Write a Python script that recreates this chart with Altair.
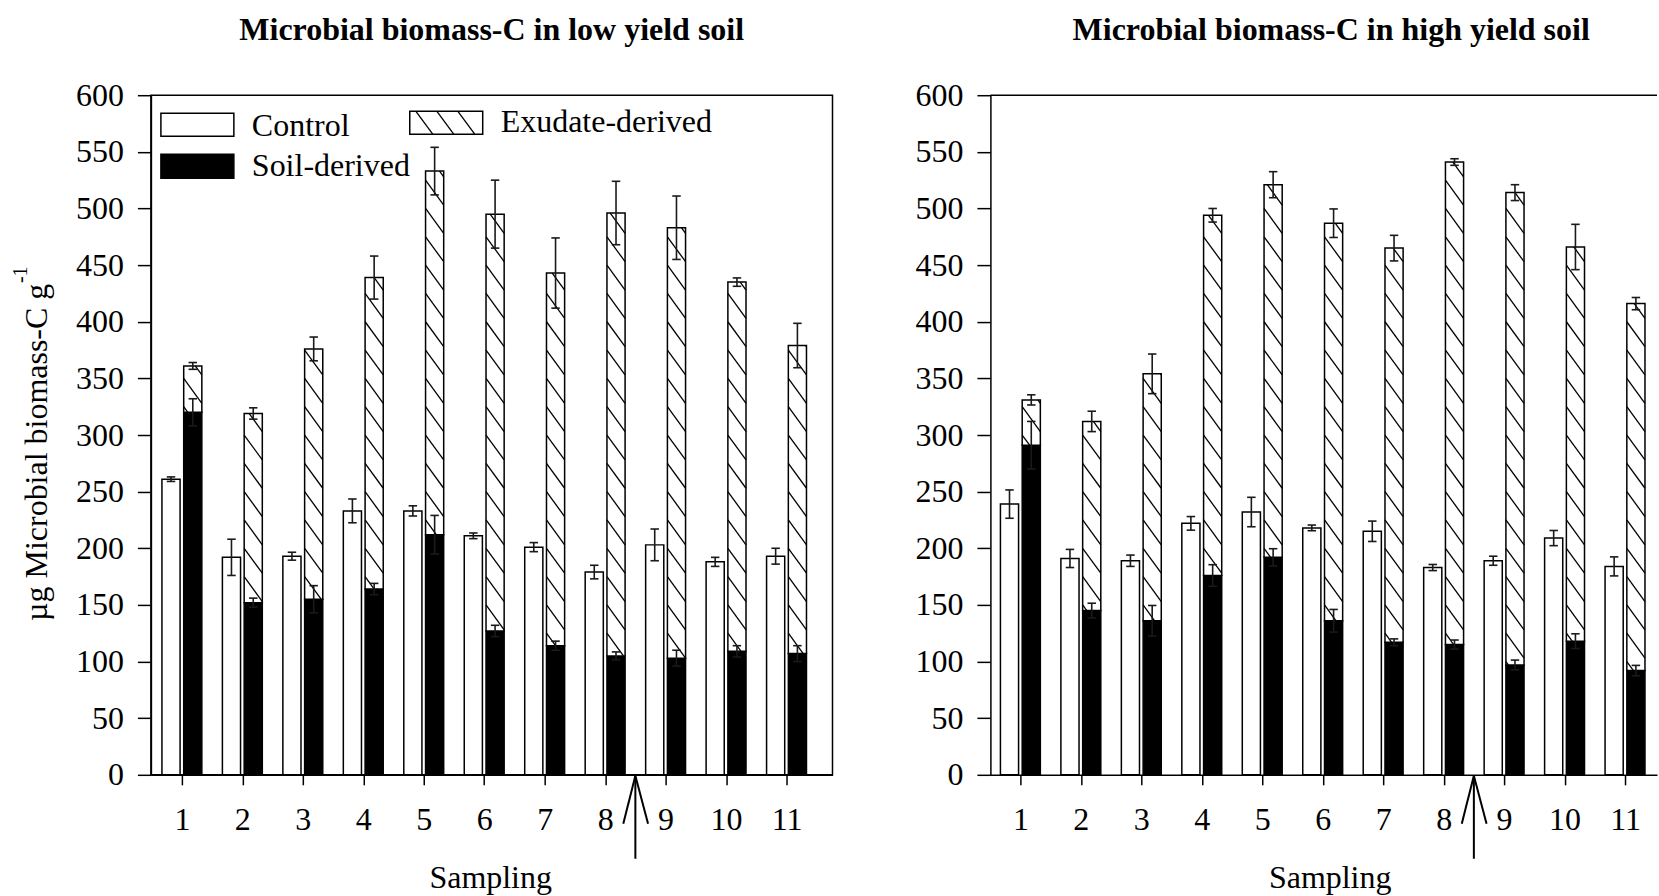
import altair as alt
import numpy as np
import pandas as pd

# ---------------- data ----------------
sampling = list(range(1, 12))

low_control = [261, 192, 193, 233, 233, 211, 201, 179, 203, 188, 193]
low_control_err = [2, 16, 3.5, 10.5, 4.5, 2.5, 4, 6, 14, 4, 7]
low_soil = [320, 152, 155, 164, 212, 127, 114, 105, 103, 109, 107]
low_soil_err = [12, 4, 12, 5, 17, 5, 4, 3.5, 7, 5, 7]
low_total = [361, 319, 376, 439, 533, 495, 443, 496, 483, 435, 379]
low_total_err = [3, 5, 10.5, 19, 21, 30, 31, 28, 28, 3.7, 19.6]

high_control = [239, 191, 189, 222, 232, 218, 215, 183, 189, 209, 184]
high_control_err = [12.5, 8, 5, 6, 13, 2.5, 9, 2.7, 4, 6.7, 8.4]
high_soil = [291, 145, 136, 176, 192, 136, 117, 115, 97, 118, 92]
high_soil_err = [21, 6.5, 13.5, 9.5, 7.6, 10, 3, 4, 4.3, 6.5, 4.6]
high_total = [331, 312, 354, 494, 521, 487, 465, 541, 514, 466, 416]
high_total_err = [4.5, 9, 17.5, 6, 11.5, 12.6, 11.3, 2.9, 7, 20, 5.4]

y_ticks = list(range(0, 601, 50))
x_ticks = sampling
arrow_at = [8.5]

title_low = "Microbial biomass-C in low yield soil"
title_high = "Microbial biomass-C in high yield soil"
x_title = "Sampling"
y_title_main = "\u00b5g Microbial biomass-C g"
y_title_sup = "-1"
legend_labels = ["Control", "Soil-derived", "Exudate-derived"]

# ---------------- layout / style constants ----------------
FONT = "Liberation Serif"
FS = 32
H = 680
Y_MAX = 600
STEP = 60.5                 # pixels per sampling step
CTRL = (-0.33, -0.03)       # control bar span around the tick
TRT = (0.03, 0.33)          # treated bar span around the tick
CAP = 0.07                  # half width of error bar caps
HATCH_SP = 25.0             # hatch spacing (data units)
HATCH_D = 22.0              # hatch drop across a bar (data units)
LINE = "black"


def hatch_segments(soil, total):
    rows = []
    for s, b, t in zip(sampling, soil, total):
        xl, xr = s + TRT[0], s + TRT[1]
        w = xr - xl
        k0 = int(np.floor(b / HATCH_SP))
        k1 = int(np.ceil((t + HATCH_D) / HATCH_SP))
        for k in range(k0, k1 + 1):
            c = k * HATCH_SP
            if c <= b or c - HATCH_D >= t:
                continue
            if c <= t:
                x1, y1 = xl, c
            else:
                x1, y1 = xl + (c - t) / HATCH_D * w, t
            if c - HATCH_D >= b:
                x2, y2 = xr, c - HATCH_D
            else:
                x2, y2 = xl + (c - b) / HATCH_D * w, b
            rows.append({"hx1": x1, "hy1": y1, "hx2": x2, "hy2": y2})
    return pd.DataFrame(rows)


def const_text(text, x, y, **kw):
    return alt.Chart(pd.DataFrame({"t": [text]})).mark_text(
        font=FONT, color="black", **kw
    ).encode(text="t:N", x=alt.value(x), y=alt.value(y))


def panel(control, control_err, soil, soil_err, total, total_err, title,
          width, first_tick_px, left_panel):
    xmin = 1 - first_tick_px / STEP
    xmax = xmin + width / STEP
    xs = alt.Scale(domain=[xmin, xmax], nice=False, zero=False)
    ys = alt.Scale(domain=[0, Y_MAX], nice=False, zero=True)

    xaxis = alt.Axis(values=x_ticks, format="d", title="", grid=False,
                     tickSize=10, tickWidth=1.5, tickColor=LINE,
                     domainColor=LINE, domainWidth=1.5,
                     labelFont=FONT, labelFontSize=FS, labelColor="black",
                     labelPadding=20)
    yaxis = alt.Axis(values=y_ticks, title="", grid=False,
                     tickSize=13.5, tickWidth=1.5, tickColor=LINE,
                     domainColor=LINE, domainWidth=1.5,
                     labelFont=FONT, labelFontSize=FS, labelColor="black",
                     labelPadding=14)

    def X(f):
        return alt.X(f, scale=xs, axis=xaxis)

    def Y(f):
        return alt.Y(f, scale=ys, axis=yaxis)

    df = pd.DataFrame({
        "s": sampling, "control": control, "soil": soil, "total": total,
    })

    control_bars = alt.Chart(df).transform_calculate(
        bx1=f"datum.s + ({CTRL[0]})", bx2=f"datum.s + ({CTRL[1]})"
    ).mark_bar(fill="white", stroke=LINE, strokeWidth=1.5).encode(
        x=X("bx1:Q"), x2="bx2:Q", y=Y("control:Q"), y2=alt.datum(0),
    )
    soil_bars = alt.Chart(df).transform_calculate(
        bx1=f"datum.s + ({TRT[0]})", bx2=f"datum.s + ({TRT[1]})"
    ).mark_bar(fill="black", stroke=LINE, strokeWidth=1.5).encode(
        x=X("bx1:Q"), x2="bx2:Q", y=Y("soil:Q"), y2=alt.datum(0),
    )
    exu_bars = alt.Chart(df).transform_calculate(
        bx1=f"datum.s + ({TRT[0]})", bx2=f"datum.s + ({TRT[1]})"
    ).mark_bar(fill="white", stroke=LINE, strokeWidth=1.5).encode(
        x=X("bx1:Q"), x2="bx2:Q", y=Y("total:Q"), y2="soil:Q",
    )
    hatch = alt.Chart(hatch_segments(soil, total)).mark_rule(
        color=LINE, strokeWidth=1.3
    ).encode(x=X("hx1:Q"), x2="hx2:Q", y=Y("hy1:Q"), y2="hy2:Q")

    mid_c = (CTRL[0] + CTRL[1]) / 2
    mid_t = (TRT[0] + TRT[1]) / 2
    err_df = pd.concat([
        pd.DataFrame({"s": sampling, "off": mid_c, "v": control, "e": control_err}),
        pd.DataFrame({"s": sampling, "off": mid_t, "v": soil, "e": soil_err}),
        pd.DataFrame({"s": sampling, "off": mid_t, "v": total, "e": total_err}),
    ], ignore_index=True)
    err_base = alt.Chart(err_df).transform_calculate(
        cx="datum.s + datum.off",
        cl=f"datum.s + datum.off - {CAP}",
        cr=f"datum.s + datum.off + {CAP}",
        lo="datum.v - datum.e",
        hi="datum.v + datum.e",
    )
    err_line = err_base.mark_rule(color="#1a1a1a", strokeWidth=1.6).encode(
        x=X("cx:Q"), y=Y("lo:Q"), y2="hi:Q",
    )
    cap_hi = err_base.mark_rule(color="#1a1a1a", strokeWidth=1.6).encode(
        x=X("cl:Q"), x2="cr:Q", y=Y("hi:Q"),
    )
    cap_lo = err_base.mark_rule(color="#1a1a1a", strokeWidth=1.6).encode(
        x=X("cl:Q"), x2="cr:Q", y=Y("lo:Q"),
    )

    # arrow below the axis between sampling 8 and 9
    arr_df = pd.DataFrame({"at": arrow_at})
    shaft = alt.Chart(arr_df).mark_rule(color=LINE, strokeWidth=2).encode(
        x=X("at:Q"), y=alt.value(H + 2), y2=alt.value(H + 84),
    )
    arm_l = alt.Chart(arr_df).transform_calculate(a2="datum.at - 0.2").mark_rule(
        color=LINE, strokeWidth=2).encode(
        x=X("at:Q"), x2="a2:Q", y=alt.value(H + 1), y2=alt.value(H + 49),
    )
    arm_r = alt.Chart(arr_df).transform_calculate(a2="datum.at + 0.21").mark_rule(
        color=LINE, strokeWidth=2).encode(
        x=X("at:Q"), x2="a2:Q", y=alt.value(H + 1), y2=alt.value(H + 49),
    )

    layers = [control_bars, soil_bars, exu_bars, hatch, err_line, cap_hi, cap_lo,
              shaft, arm_l, arm_r]

    center = 341
    layers.append(const_text(title, center, -55, fontSize=FS, fontWeight="bold",
                             align="center", baseline="alphabetic"))
    layers.append(const_text(x_title, 340, H + 113, fontSize=FS,
                             align="center", baseline="alphabetic"))

    one = pd.DataFrame({"k": [0]})
    if left_panel:
        layers.append(const_text(y_title_main, -104, 526, fontSize=FS, angle=270,
                                 align="left", baseline="alphabetic"))
        layers.append(const_text(y_title_sup, -124, 188, fontSize=20, angle=270,
                                 align="left", baseline="alphabetic"))
        boxes = [(10, 83, 18, 41, "white"), (10, 83, 59, 83, "black"),
                 (259, 332, 16, 39, "white")]
        for bx1, bx2, by1, by2, fill in boxes:
            layers.append(alt.Chart(one).mark_rect(
                fill=fill, stroke=LINE, strokeWidth=1.5).encode(
                x=alt.value(bx1), x2=alt.value(bx2),
                y=alt.value(by1), y2=alt.value(by2)))
        for top_x in (265, 286, 307):
            layers.append(alt.Chart(one).mark_rule(color=LINE, strokeWidth=1.3).encode(
                x=alt.value(top_x), x2=alt.value(top_x + 17),
                y=alt.value(16), y2=alt.value(39)))
        layers.append(const_text(legend_labels[0], 101, 41, fontSize=FS,
                                 align="left", baseline="alphabetic"))
        layers.append(const_text(legend_labels[1], 101, 81, fontSize=FS,
                                 align="left", baseline="alphabetic"))
        layers.append(const_text(legend_labels[2], 350, 37, fontSize=FS,
                                 align="left", baseline="alphabetic"))
        view = alt.ViewBackground(stroke=LINE, strokeWidth=1.5)
    else:
        layers.append(alt.Chart(one).mark_rule(color=LINE, strokeWidth=1.5).encode(
            x=alt.value(0), x2=alt.value(width), y=alt.value(0)))
        view = alt.ViewBackground(stroke="transparent")

    return alt.layer(*layers).properties(width=width, height=H, view=view)


left = panel(low_control, low_control_err, low_soil, low_soil_err, low_total,
             low_total_err, title_low, 682, 31, True)
right = panel(high_control, high_control_err, high_soil, high_soil_err, high_total,
              high_total_err, title_high, 667, 30, False)

chart = alt.hconcat(left, right, spacing=81).properties(
    padding={"left": 10, "top": 13, "right": 0, "bottom": 2},
    background="white",
)

chart.save("out.html", embed_options={"renderer": "svg", "actions": False})
